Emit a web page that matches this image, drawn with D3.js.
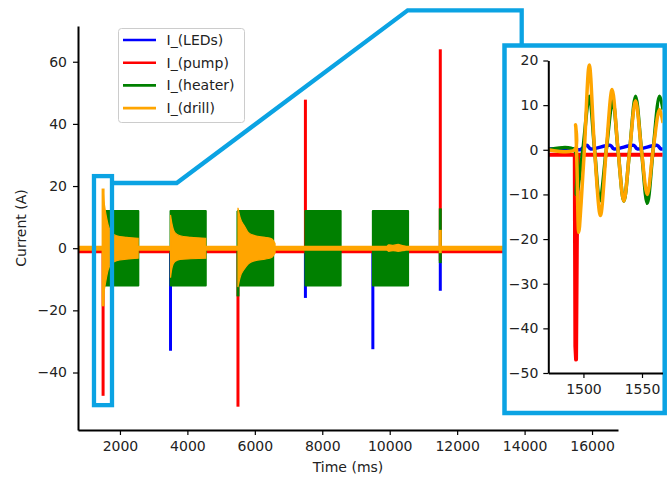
<!DOCTYPE html>
<html><head><meta charset="utf-8">
<script src="https://cdn.jsdelivr.net/npm/d3@7"></script>
<style>
html,body{margin:0;padding:0;background:#fff;}
text{font-family:"DejaVu Sans",sans-serif;}
</style></head>
<body>
<svg id="chart" width="671" height="479"></svg>
<script>
// ---------- data ----------
const seriesNames = ["I_(LEDs)", "I_(pump)", "I_(heater)", "I_(drill)"];
const seriesColors = ["#0000ff", "#ff0000", "#008000", "#ffa500"];
const xTicks = [2000, 4000, 6000, 8000, 10000, 12000, 14000, 16000];
const yTicks = [-40, -20, 0, 20, 40, 60];
const insetXTicks = [1500, 1550];
const insetYTicks = [-50, -40, -30, -20, -10, 0, 10, 20];

const timeSpan = [756, 16000];
const baselineLEDs = 0, baselinePump = -1, baselineHeater = 0, baselineDrill = 0;

// [time, low, high]
const ledSpikes = [[3500, -33, 0], [7500, -16, 0], [9500, -32.5, 0], [11500, -13.7, 0]];
const pumpSpikes = [[1500, -47.5, 0], [5500, -51, 0], [7500, -1, 47.8], [11500, -4, 64]];
const heaterSpikes = [[5500, -15.5, 12], [11500, -4.8, 12.8]];
const drillSpikes = [[1500, -18.7, 19.2], [11500, -1.6, 5.9]];
// [start, end, amplitude]
const heaterBlocks = [[1500, 2545, 12], [3500, 4545, 12], [5500, 6545, 12], [7500, 8545, 12], [9500, 10545, 12]];
// drill envelopes: [time, high, low]
const drillEnv1 = [[1500, 19, -18.5], [1530, 15, -14], [1560, 12.5, -12], [1600, 10, -9.5], [1650, 7.5, -7], [1750, 5, -5], [1900, 4, -4], [2200, 3.5, -3.5], [2540, 3.2, -3.2]];
const drillEnv2 = [[3500, 10.7, -9.5], [3540, 8, -6.5], [3630, 5, -4.3], [3780, 4, -3.6], [4100, 3.5, -3.4], [4545, 3.2, -3.2]];
const drillEnv3 = [[5500, 13, -12.5], [5560, 10, -9.5], [5700, 7, -6.5], [5810, 5, -5], [6010, 4, -4], [6300, 3.5, -3.5], [6500, 3, -3], [6600, 1.5, -1.5]];
const drillEnv5 = [[9930, 0.7, -0.7], [9970, 1.1, -1.0], [10100, 0.9, -0.8], [10250, 1.2, -1.0], [10380, 0.8, -0.8], [10450, 0.7, -0.7]];

// zoomed region, in main data units: [t0, t1, vLow, vHigh]
const zoomBox = [1230, 1764, -50.5, 23.2];

// inset series [time, value]
const insetLEDs = [[1470, 0.2], [1492, 0.2], [1497, 0], [1503, 1], [1506, 0.2], [1523, 1], [1526, 0.2], [1543, 1], [1546, 0.2], [1563, 1], [1566, 0.2], [1568, 0.2]];
const insetPump = [[1470, -1.1], [1492.6, -1.1], [1493.1, -44], [1493.7, -47], [1494.4, -20], [1495.5, -1.1], [1568, -1.1]];
const insetHeater = [[1470, 0], [1492, 0], [1494, -10], [1499.5, 0], [1505, 12], [1509.5, 0], [1514, -11.5], [1519.5, 0], [1525, 11], [1529.5, 0], [1534.5, -11.5], [1539.5, 0], [1544.5, 12], [1549.5, 0], [1554.5, -12], [1559.5, 0], [1565, 12], [1568, 9]];
const insetDrill = [[1470, 0], [1492.5, 0], [1493.3, 5.6], [1494.5, -4], [1496, -18.5], [1498, -12], [1500.8, 0], [1505, 19], [1509.5, 0], [1514.5, -14.7], [1519.5, 0], [1524.5, 13.5], [1529.5, 0], [1534.5, -11.5], [1539.5, 0], [1544.5, 11], [1549.5, 0], [1554.5, -10], [1559.5, 0], [1565, 9], [1568, 6]];

// ---------- drawing ----------
const svg = d3.select("#chart");
const txtColor = "#222";
const x = d3.scaleLinear().domain([756, 16770]).range([78, 618]);
const y = d3.scaleLinear().domain([-58.5, 71.5]).range([430, 26]);

const main = svg.append("g");
main.append("clipPath").attr("id", "mainclip").append("rect")
  .attr("x", 78).attr("y", 26).attr("width", 540).attr("height", 404);
const plot = main.append("g").attr("clip-path", "url(#mainclip)");

function hline(g, v, color, w) {
  g.append("line").attr("x1", x(timeSpan[0])).attr("x2", x(timeSpan[1]))
    .attr("y1", y(v)).attr("y2", y(v)).attr("stroke", color).attr("stroke-width", w);
}
function spikes(g, arr, color, w) {
  g.selectAll(null).data(arr).enter().append("line")
    .attr("x1", d => x(d[0])).attr("x2", d => x(d[0]))
    .attr("y1", d => y(d[1])).attr("y2", d => y(d[2]))
    .attr("stroke", color).attr("stroke-width", w);
}
const env = d3.area().x(d => x(d[0])).y0(d => y(d[2])).y1(d => y(d[1])).curve(d3.curveMonotoneX);

// LEDs
hline(plot, baselineLEDs, seriesColors[0], 4);
spikes(plot, ledSpikes, seriesColors[0], 3);
// pump
hline(plot, baselinePump, seriesColors[1], 4);
spikes(plot, pumpSpikes, seriesColors[1], 3);
// heater
hline(plot, baselineHeater, seriesColors[2], 3);
plot.selectAll(null).data(heaterBlocks).enter().append("path")
  .attr("d", d => d3.area().x(p => x(p)).y0(y(-d[2])).y1(y(d[2]))([d[0], d[1]]))
  .attr("fill", seriesColors[2]).attr("stroke", seriesColors[2]).attr("stroke-width", 2).attr("stroke-linejoin", "round");
spikes(plot, heaterSpikes, seriesColors[2], 3);
// drill
hline(plot, baselineDrill, seriesColors[3], 5);
[drillEnv1, drillEnv2, drillEnv3, drillEnv5].forEach(e => {
  plot.append("path").attr("d", env(e)).attr("fill", seriesColors[3])
    .attr("stroke", seriesColors[3]).attr("stroke-width", 1.2);
});
spikes(plot, drillSpikes, seriesColors[3], 3);

// axes
const xAxis = main.append("g").attr("transform", "translate(0,430)")
  .call(d3.axisBottom(x).tickValues(xTicks).tickFormat(d3.format("d")).tickSize(5).tickPadding(6).tickSizeOuter(0));
const yAxis = main.append("g").attr("transform", "translate(78,0)")
  .call(d3.axisLeft(y).tickValues(yTicks).tickSize(5).tickPadding(6).tickSizeOuter(0));
[xAxis, yAxis].forEach(a => {
  a.select(".domain").attr("stroke", "#000").attr("stroke-width", 2);
  a.selectAll(".tick line").attr("stroke", "#000").attr("stroke-width", 1.2);
  a.selectAll(".tick text").attr("font-size", 14).attr("fill", txtColor).attr("font-family", "DejaVu Sans");
});
main.append("text").attr("x", 348).attr("y", 472).attr("text-anchor", "middle")
  .attr("font-size", 14).attr("fill", txtColor).text("Time (ms)");
main.append("text").attr("transform", "translate(21,228) rotate(-90)").attr("text-anchor", "middle")
  .attr("dominant-baseline", "central").attr("font-size", 14).attr("fill", txtColor).text("Current (A)");

// legend
const leg = svg.append("g");
leg.append("rect").attr("x", 118.5).attr("y", 28.5).attr("width", 126).attr("height", 94).attr("rx", 3)
  .attr("fill", "#fff").attr("fill-opacity", 0.8).attr("stroke", "#ccc");
seriesNames.forEach((n, i) => {
  const yy = 40 + i * 22.7;
  leg.append("line").attr("x1", 123).attr("x2", 156).attr("y1", yy).attr("y2", yy)
    .attr("stroke", seriesColors[i]).attr("stroke-width", 2.6);
  leg.append("text").attr("x", 166.5).attr("y", yy).attr("dominant-baseline", "central")
    .attr("font-size", 14).attr("fill", txtColor).text(n);
});

// zoom indicator + connector
const hl = "#0ba3e3";
svg.append("rect").attr("x", x(zoomBox[0])).attr("y", y(zoomBox[3]))
  .attr("width", x(zoomBox[1]) - x(zoomBox[0])).attr("height", y(zoomBox[2]) - y(zoomBox[3]))
  .attr("fill", "none").attr("stroke", hl).attr("stroke-width", 4.3);
svg.append("path").attr("d", d3.line()([[x(zoomBox[1]), 183], [176.7, 183], [407.7, 10.3], [521.7, 10.3], [521.7, 46]]))
  .attr("fill", "none").attr("stroke", hl).attr("stroke-width", 4.3).attr("stroke-linejoin", "miter");

// inset
const ins = svg.append("g");
ins.append("rect").attr("x", 504.5).attr("y", 45.5).attr("width", 160.2).attr("height", 367.5)
  .attr("fill", "#fff").attr("stroke", hl).attr("stroke-width", 4.5);
const xi = d3.scaleLinear().domain([1470, 1567.5]).range([548.3, 662.5]);
const yi = d3.scaleLinear().domain([-50, 20]).range([373, 60.5]);
ins.append("clipPath").attr("id", "insclip").append("rect")
  .attr("x", 548.3).attr("y", 58).attr("width", 114.2).attr("height", 315);
const ip = ins.append("g").attr("clip-path", "url(#insclip)");
const iline = d3.line().x(d => xi(d[0])).y(d => yi(d[1])).curve(d3.curveCatmullRom.alpha(0.5));
const iline2 = d3.line().x(d => xi(d[0])).y(d => yi(d[1]));
ip.append("path").attr("d", iline(insetLEDs)).attr("fill", "none").attr("stroke", seriesColors[0]).attr("stroke-width", 3.5);
ip.append("path").attr("d", iline2(insetPump)).attr("fill", "none").attr("stroke", seriesColors[1]).attr("stroke-width", 4).attr("stroke-linejoin", "round");
ip.append("path").attr("d", iline(insetHeater)).attr("fill", "none").attr("stroke", seriesColors[2]).attr("stroke-width", 3.5);
ip.append("path").attr("d", iline(insetDrill)).attr("fill", "none").attr("stroke", seriesColors[3]).attr("stroke-width", 3.5);

const xiAxis = ins.append("g").attr("transform", "translate(0,373)")
  .call(d3.axisBottom(xi).tickValues(insetXTicks).tickFormat(d3.format("d")).tickSize(5).tickPadding(6).tickSizeOuter(0));
const yiAxis = ins.append("g").attr("transform", "translate(548.3,0)")
  .call(d3.axisLeft(yi).tickValues(insetYTicks).tickSize(5).tickPadding(5).tickSizeOuter(0));
[xiAxis, yiAxis].forEach(a => {
  a.select(".domain").attr("stroke", "#000").attr("stroke-width", 2);
  a.selectAll(".tick line").attr("stroke", "#000").attr("stroke-width", 1.2);
  a.selectAll(".tick text").attr("font-size", 14).attr("fill", txtColor).attr("font-family", "DejaVu Sans");
});
</script>
</body></html>
